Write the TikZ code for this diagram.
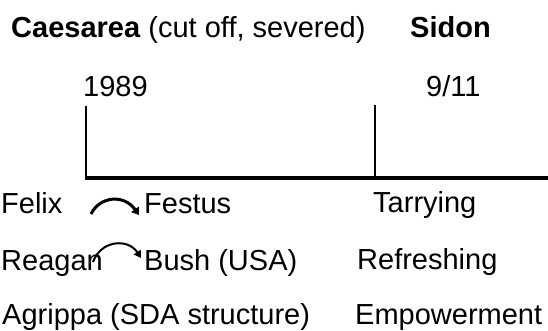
\documentclass[tikz,border=0pt]{standalone}
\usepackage{fontspec}
\setmainfont{Liberation Sans}
\usetikzlibrary{arrows.meta}
\tikzset{
  lbl/.style={anchor=base west, inner sep=0pt, font=\fontsize{29}{33}\selectfont},
  tick/.style={line width=2pt},
  axis/.style={line width=3.5pt},
  swoop/.style={line width=3pt, -{Triangle[length=7pt,width=9pt]}},
  swoopthin/.style={line width=2pt, -{Triangle[length=7pt,width=8pt]}}
}
\begin{document}
\begin{tikzpicture}[x=1pt,y=1pt]
\useasboundingbox (0,0) rectangle (548,-331);
% headers
\node[lbl] (caes) at (11,-38) {\textbf{Caesarea} (cut off, severed)};
\node[lbl] (sidon) at (410,-38) {\textbf{Sidon}};
\node[lbl] (y1989) at (83,-97) {1989};
\node[lbl] (y911) at (426,-97) {9/11};
% timeline
\coordinate (t1) at (86,-106);
\coordinate (b1) at (86,-178);
\coordinate (t2) at (375,-105);
\coordinate (b2) at (375,-178);
\coordinate (e) at (548,-178);
\draw[tick] (t1) -- (b1);
\draw[tick] (t2) -- (b2);
\draw[axis] ([xshift=-1pt]b1) -- (e);
% rows
\node[lbl] (felix) at (1,-213) {Felix};
\node[lbl] (festus) at (144,-213) {Festus};
\node[lbl] (tarry) at (373,-212) {Tarrying};
\node[lbl] (reagan) at (1,-270) {Reagan};
\node[lbl] (bush) at (144,-270) {Bush (USA)};
\node[lbl] (refresh) at (357,-269) {Refreshing};
\node[lbl] (agrippa) at (2,-324) {Agrippa (SDA structure)};
\node[lbl] (empower) at (355,-324) {Empowerment};
% curved arrows
\coordinate (a1s) at (91,-214);
\coordinate (a1e) at (139,-215);
\coordinate (a2s) at (93,-262);
\coordinate (a2e) at (141,-258);
\draw[swoop] (a1s) .. controls (100,-196) and (124,-194) .. (a1e);
\draw[swoopthin] (a2s) .. controls (101,-240) and (128,-238) .. (a2e);
\end{tikzpicture}
\end{document}
